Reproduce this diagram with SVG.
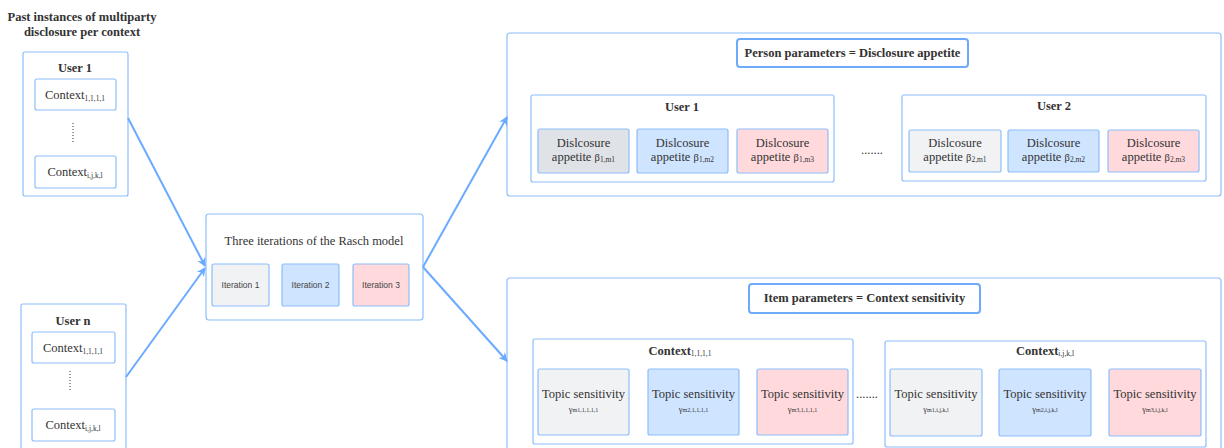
<svg xmlns="http://www.w3.org/2000/svg" width="1224" height="448" viewBox="0 0 1224 448">
<defs>
<style>
.box{fill:#fff;stroke:#8dbdfb;stroke-width:1.2}
.hdr{fill:#fff;stroke:#6eaafa;stroke-width:2}
.gray{fill:#f1f2f4;stroke:#8dbdfb;stroke-width:1.2}
.dgray{fill:#dfe2e6;stroke:#8dbdfb;stroke-width:1.2}
.blue{fill:#cfe4ff;stroke:#8dbdfb;stroke-width:1.2}
.pink{fill:#ffd9dc;stroke:#8dbdfb;stroke-width:1.2}
text{font-family:"Liberation Serif","Times New Roman",serif;fill:#333;text-anchor:middle}
.b{font-weight:bold;font-size:12.5px}
.n{font-size:12.5px}
.s{font-size:7.5px}
.sans{font-family:"Liberation Sans",Arial,sans-serif;font-size:8.5px;fill:#444}
.dot{stroke:#333;stroke-width:1;stroke-dasharray:1 2}
.edge{stroke:#6aabff;stroke-width:2;fill:none}
</style>
<marker id="arr" viewBox="0 0 10 10" refX="9" refY="5" markerWidth="4.5" markerHeight="4.5" orient="auto" markerUnits="strokeWidth">
<path d="M0,0 L10,5 L0,10 L3,5 Z" fill="#6aabff"/>
</marker>
</defs>

<text class="b" x="82" y="21">Past instances of multiparty</text>
<text class="b" x="82" y="36">disclosure per context</text>

<g id="user1">
<rect class="box" x="23" y="52" width="105" height="144" rx="2"/>
<text class="b" x="75" y="72">User 1</text>
<rect class="box" x="35" y="79" width="81" height="31" rx="2"/>
<text class="n" x="75" y="99">Context<tspan class="s" dy="1.5">1,1,1,1</tspan></text>
<line class="dot" x1="73" y1="123" x2="73" y2="144"/>
<rect class="box" x="35" y="156" width="81" height="32" rx="2"/>
<text class="n" x="75" y="176">Context<tspan class="s" dy="1.5">i,j,k,l</tspan></text>
</g>

<g id="usern">
<rect class="box" x="21" y="304" width="105" height="150" rx="2"/>
<text class="b" x="73" y="325">User n</text>
<rect class="box" x="32" y="332" width="83" height="31" rx="2"/>
<text class="n" x="73" y="352">Context<tspan class="s" dy="1.5">1,1,1,1</tspan></text>
<line class="dot" x1="70" y1="371" x2="70" y2="392"/>
<rect class="box" x="32" y="409" width="83" height="32" rx="2"/>
<text class="n" x="73" y="429">Context<tspan class="s" dy="1.5">i,j,k,l</tspan></text>
</g>

<g id="rasch">
<rect class="box" x="206" y="214" width="217" height="106" rx="3"/>
<text class="n" x="314" y="245">Three iterations of the Rasch model</text>
<rect class="gray" x="212" y="264" width="57" height="42" rx="2"/>
<text class="sans" x="240.5" y="288">Iteration 1</text>
<rect class="blue" x="282" y="264" width="57" height="42" rx="2"/>
<text class="sans" x="310.5" y="288">Iteration 2</text>
<rect class="pink" x="353" y="264" width="56" height="42" rx="2"/>
<text class="sans" x="381" y="288">Iteration 3</text>
</g>

<g id="person">
<rect class="box" x="507" y="33" width="714" height="163" rx="3"/>
<rect class="hdr" x="737" y="39" width="231" height="28" rx="3"/>
<text class="b" x="852.5" y="57">Person parameters = Disclosure appetite</text>
</g>

<g id="puser1">
<rect class="box" x="531" y="95" width="303" height="87" rx="2"/>
<text class="b" x="682" y="111">User 1</text>
<rect class="dgray" x="538" y="129" width="91" height="44" rx="2"/>
<text class="n" x="583.5" y="147">Dislcosure</text>
<text class="n" x="583.5" y="161">appetite <tspan font-size="10.5">β</tspan><tspan class="s" dy="0.5">1,m1</tspan></text>
<rect class="blue" x="637" y="129" width="91" height="44" rx="2"/>
<text class="n" x="682.5" y="147">Dislcosure</text>
<text class="n" x="682.5" y="161">appetite <tspan font-size="10.5">β</tspan><tspan class="s" dy="0.5">1,m2</tspan></text>
<rect class="pink" x="737" y="129" width="91" height="44" rx="2"/>
<text class="n" x="782.5" y="147">Dislcosure</text>
<text class="n" x="782.5" y="161">appetite <tspan font-size="10.5">β</tspan><tspan class="s" dy="0.5">1,m3</tspan></text>
</g>

<text class="n" x="872" y="154">.......</text>

<g id="puser2">
<rect class="box" x="902" y="95" width="304" height="86" rx="2"/>
<text class="b" x="1054" y="110">User 2</text>
<rect class="gray" x="909" y="130" width="92" height="42" rx="2"/>
<text class="n" x="955" y="147">Dislcosure</text>
<text class="n" x="955" y="161">appetite <tspan font-size="10.5">β</tspan><tspan class="s" dy="0.5">2,m1</tspan></text>
<rect class="blue" x="1008" y="130" width="91" height="42" rx="2"/>
<text class="n" x="1053.5" y="147">Dislcosure</text>
<text class="n" x="1053.5" y="161">appetite <tspan font-size="10.5">β</tspan><tspan class="s" dy="0.5">2,m2</tspan></text>
<rect class="pink" x="1108" y="130" width="91" height="42" rx="2"/>
<text class="n" x="1153.5" y="147">Dislcosure</text>
<text class="n" x="1153.5" y="161">appetite <tspan font-size="10.5">β</tspan><tspan class="s" dy="0.5">2,m3</tspan></text>
</g>

<g id="item">
<rect class="box" x="507" y="278" width="714" height="180" rx="3"/>
<rect class="hdr" x="749" y="284" width="231" height="29" rx="3"/>
<text class="b" x="864.5" y="302">Item parameters = Context sensitivity</text>
</g>

<g id="context1">
<rect class="box" x="533" y="339" width="320" height="105" rx="2"/>
<text class="b" x="680" y="355">Context<tspan class="s" font-weight="normal" dy="1">1,1,1,1</tspan></text>
<rect class="gray" x="538" y="369" width="91" height="66" rx="2"/>
<text class="n" x="583.5" y="398">Topic sensitivity</text>
<text x="583.5" y="412" font-size="8.5">γ<tspan font-size="6">m1,1,1,1,1</tspan></text>
<rect class="blue" x="648" y="369" width="91" height="66" rx="2"/>
<text class="n" x="693.5" y="398">Topic sensitivity</text>
<text x="693.5" y="412" font-size="8.5">γ<tspan font-size="6">m2,1,1,1,1</tspan></text>
<rect class="pink" x="757" y="369" width="91" height="66" rx="2"/>
<text class="n" x="802.5" y="398">Topic sensitivity</text>
<text x="802.5" y="412" font-size="8.5">γ<tspan font-size="6">m3,1,1,1,1</tspan></text>
</g>

<text class="n" x="867" y="398">.......</text>

<g id="contextn">
<rect class="box" x="885" y="341" width="321" height="106" rx="2"/>
<text class="b" x="1045" y="355">Context<tspan class="s" font-weight="normal" dy="1">i,j,k,l</tspan></text>
<rect class="gray" x="890" y="369" width="92" height="67" rx="2"/>
<text class="n" x="936" y="398">Topic sensitivity</text>
<text x="936" y="412" font-size="8.5">γ<tspan font-size="6">m1,i,j,k,l</tspan></text>
<rect class="blue" x="999" y="369" width="92" height="67" rx="2"/>
<text class="n" x="1045" y="398">Topic sensitivity</text>
<text x="1045" y="412" font-size="8.5">γ<tspan font-size="6">m2,i,j,k,l</tspan></text>
<rect class="pink" x="1109" y="369" width="92" height="67" rx="2"/>
<text class="n" x="1155" y="398">Topic sensitivity</text>
<text x="1155" y="412" font-size="8.5">γ<tspan font-size="6">m3,i,j,k,l</tspan></text>
</g>

<g id="connectors">
<path class="edge" d="M128,118 L205,266" marker-end="url(#arr)"/>
<path class="edge" d="M126,377 L205,268" marker-end="url(#arr)"/>
<path class="edge" d="M423,267 L507,117" marker-end="url(#arr)"/>
<path class="edge" d="M423,267 L507,361" marker-end="url(#arr)"/>
</g>
</svg>
